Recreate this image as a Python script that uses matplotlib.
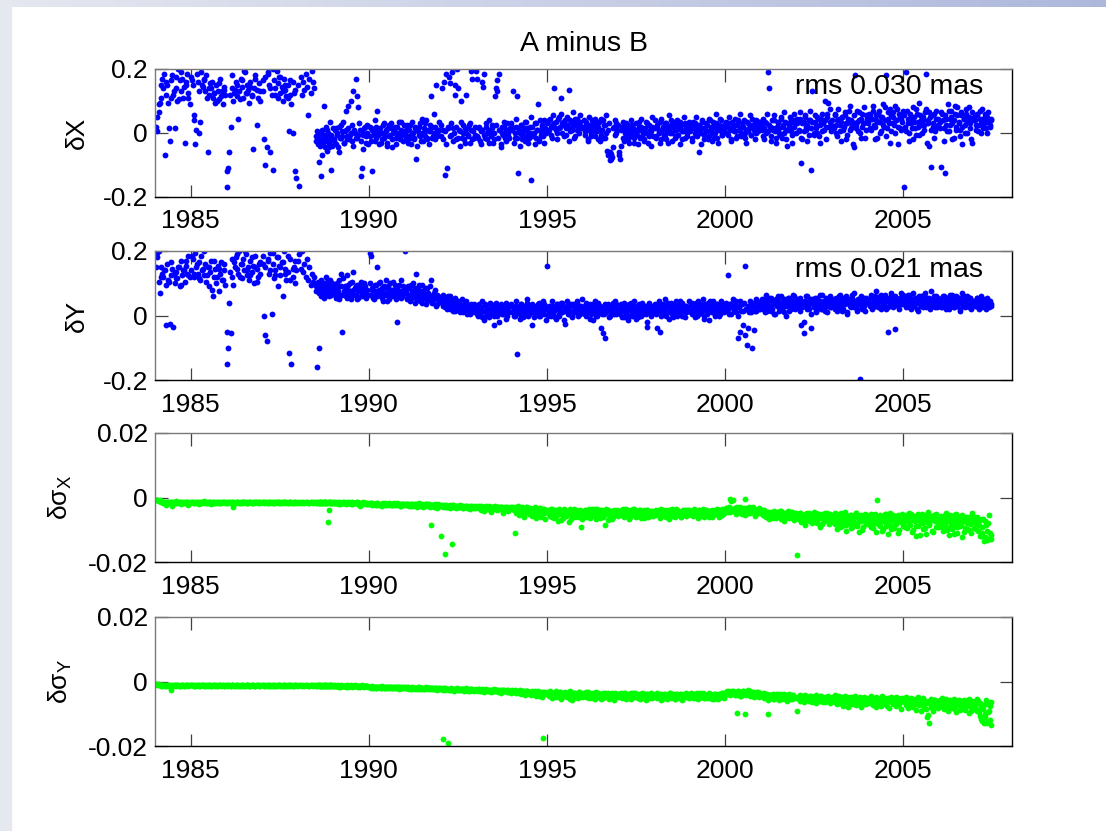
import numpy as np
import matplotlib
matplotlib.use('Agg')
import matplotlib.pyplot as plt

plt.rcParams['font.family'] = ['Liberation Sans', 'DejaVu Sans']
plt.rcParams['mathtext.fontset'] = 'custom'
plt.rcParams['mathtext.rm'] = 'Liberation Sans'
plt.rcParams['mathtext.it'] = 'Liberation Sans'
plt.rcParams['axes.unicode_minus'] = False

# ---- first group of sessions ----
# epochs (decimal year), shared by all four series
epochs = [
    1984.05, 1984.07, 1984.10, 1984.13, 1984.16, 1984.20, 1984.23, 1984.27, 1984.30, 1984.34, 1984.37, 1984.41, 1984.44, 1984.48,
    1984.51, 1984.55, 1984.58, 1984.62, 1984.65, 1984.69, 1984.72, 1984.76, 1984.79, 1984.83, 1984.86, 1984.90, 1984.93, 1984.97,
    1985.02, 1985.06, 1985.09, 1985.13, 1985.16, 1985.20, 1985.23, 1985.27, 1985.30, 1985.34, 1985.37, 1985.41, 1985.44, 1985.48,
    1985.51, 1985.55, 1985.58, 1985.62, 1985.65, 1985.69, 1985.72, 1985.76, 1985.79, 1985.83, 1985.86, 1985.90, 1985.93, 1985.97,
    1986.01, 1986.05, 1986.08, 1986.12, 1986.15, 1986.19, 1986.22, 1986.26, 1986.29, 1986.33, 1986.36, 1986.40, 1986.43, 1986.47,
    1986.50, 1986.54, 1986.57, 1986.61, 1986.64, 1986.68, 1986.71, 1986.75, 1986.78, 1986.82, 1986.85, 1986.89, 1986.92, 1986.96,
    1987.02, 1987.06, 1987.09, 1987.13, 1987.16, 1987.20, 1987.23, 1987.27, 1987.30, 1987.34, 1987.37, 1987.41, 1987.44, 1987.48,
    1987.51, 1987.55, 1987.58, 1987.62, 1987.65, 1987.69, 1987.72, 1987.76, 1987.79, 1987.83, 1987.86, 1987.90, 1987.93, 1987.97,
    1988.02, 1988.05, 1988.09, 1988.12, 1988.16, 1988.19, 1988.23, 1988.26, 1988.30, 1988.33, 1988.37, 1988.40, 1988.44, 1988.47,
    1988.52, 1988.53, 1988.55, 1988.57, 1988.59, 1988.60, 1988.62, 1988.64, 1988.66, 1988.67, 1988.69, 1988.71, 1988.73, 1988.74,
    1988.76, 1988.78, 1988.80, 1988.81, 1988.83, 1988.85, 1988.87, 1988.88, 1988.90, 1988.92, 1988.94, 1988.95, 1988.97, 1988.99,
    1989.01, 1989.05, 1989.08, 1989.12, 1989.15, 1989.19, 1989.22, 1989.26, 1989.29, 1989.33, 1989.36, 1989.40, 1989.43, 1989.47,
    1989.50, 1989.54, 1989.57, 1989.61, 1989.64, 1989.68, 1989.71, 1989.75, 1989.78, 1989.82, 1989.85, 1989.89, 1989.92, 1989.96,
    1990.02, 1990.06, 1990.09, 1990.13, 1990.16, 1990.20, 1990.23, 1990.27, 1990.30, 1990.34, 1990.37, 1990.41, 1990.44, 1990.48,
    1990.51, 1990.55, 1990.58, 1990.62, 1990.65, 1990.69, 1990.72, 1990.76, 1990.79, 1990.83, 1990.86, 1990.90, 1990.93, 1990.97,
    1991.01, 1991.05, 1991.08, 1991.12, 1991.15, 1991.19, 1991.22, 1991.26, 1991.29, 1991.33, 1991.36, 1991.40, 1991.43, 1991.47,
    1991.50, 1991.54, 1991.57, 1991.61, 1991.64, 1991.68, 1991.71, 1991.75, 1991.78, 1991.82, 1991.85, 1991.89, 1991.92, 1991.96,
    1992.02, 1992.06, 1992.09, 1992.13, 1992.16, 1992.20, 1992.23, 1992.27, 1992.30, 1992.34, 1992.37, 1992.41, 1992.44, 1992.48,
    1992.51, 1992.55, 1992.58, 1992.62, 1992.65, 1992.69, 1992.72, 1992.76, 1992.79, 1992.83, 1992.86, 1992.90, 1992.93, 1992.97,
    1993.01, 1993.05, 1993.08, 1993.12, 1993.15, 1993.19, 1993.22, 1993.26, 1993.29, 1993.33, 1993.36, 1993.40, 1993.43, 1993.47,
    1993.50, 1993.54, 1993.57, 1993.61, 1993.64, 1993.68, 1993.71, 1993.75, 1993.78, 1993.82, 1993.85, 1993.89, 1993.92, 1993.96,
    1994.02, 1994.06, 1994.09, 1994.13, 1994.16, 1994.20, 1994.23, 1994.27, 1994.30, 1994.34, 1994.37, 1994.41, 1994.44, 1994.48,
    1994.51, 1994.55, 1994.58, 1994.62, 1994.65, 1994.69, 1994.72, 1994.76, 1994.79, 1994.83, 1994.86, 1994.90, 1994.93, 1994.97,
    1995.01, 1995.05, 1995.08, 1995.12, 1995.15, 1995.19, 1995.22, 1995.26, 1995.29, 1995.33, 1995.36, 1995.40, 1995.43, 1995.47,
    1995.50, 1995.54, 1995.57, 1995.61, 1995.64, 1995.68, 1995.71, 1995.75, 1995.78, 1995.82, 1995.85, 1995.89, 1995.92, 1995.96,
    1996.02, 1996.06, 1996.09, 1996.13, 1996.16, 1996.20, 1996.23, 1996.27, 1996.30, 1996.34, 1996.37, 1996.41, 1996.44, 1996.48,
    1996.51, 1996.55, 1996.58, 1996.62, 1996.65, 1996.69, 1996.72, 1996.76, 1996.79, 1996.83, 1996.86, 1996.90, 1996.93, 1996.97,
    1997.01, 1997.05, 1997.08, 1997.12, 1997.15, 1997.19, 1997.22, 1997.26, 1997.29, 1997.33, 1997.36, 1997.40, 1997.43, 1997.47,
    1997.50, 1997.54, 1997.57, 1997.61, 1997.64, 1997.68, 1997.71, 1997.75, 1997.78, 1997.82, 1997.85, 1997.89, 1997.92, 1997.96,
    1998.02, 1998.06, 1998.09, 1998.13, 1998.16, 1998.20, 1998.23, 1998.27, 1998.30, 1998.34, 1998.37, 1998.41, 1998.44, 1998.48,
    1998.51, 1998.55, 1998.58, 1998.62, 1998.65, 1998.69, 1998.72, 1998.76, 1998.79, 1998.83, 1998.86, 1998.90, 1998.93, 1998.97,
    1999.01, 1999.05, 1999.08, 1999.12, 1999.15, 1999.19, 1999.22, 1999.26, 1999.29, 1999.33, 1999.36, 1999.40, 1999.43, 1999.47,
    1999.50, 1999.54, 1999.57, 1999.61, 1999.64, 1999.68, 1999.71, 1999.75, 1999.78, 1999.82, 1999.85, 1999.89, 1999.92, 1999.96,
    2000.02, 2000.06, 2000.09, 2000.13, 2000.16, 2000.20, 2000.23, 2000.27, 2000.30, 2000.34, 2000.37, 2000.41, 2000.44, 2000.48,
    2000.51, 2000.55, 2000.58, 2000.62, 2000.65, 2000.69, 2000.72, 2000.76, 2000.79, 2000.83, 2000.86, 2000.90, 2000.93, 2000.97,
    2001.01, 2001.05, 2001.08, 2001.12, 2001.15, 2001.19, 2001.22, 2001.26, 2001.29, 2001.33, 2001.36, 2001.40, 2001.43, 2001.47,
    2001.50, 2001.54, 2001.57, 2001.61, 2001.64, 2001.68, 2001.71, 2001.75, 2001.78, 2001.82, 2001.85, 2001.89, 2001.92, 2001.96,
    2002.02, 2002.06, 2002.09, 2002.13, 2002.16, 2002.20, 2002.23, 2002.27, 2002.30, 2002.34, 2002.37, 2002.41, 2002.44, 2002.48,
    2002.51, 2002.55, 2002.58, 2002.62, 2002.65, 2002.69, 2002.72, 2002.76, 2002.79, 2002.83, 2002.86, 2002.90, 2002.93, 2002.97,
    2003.01, 2003.05, 2003.08, 2003.12, 2003.15, 2003.19, 2003.22, 2003.26, 2003.29, 2003.33, 2003.36, 2003.40, 2003.43, 2003.47,
    2003.50, 2003.54, 2003.57, 2003.61, 2003.64, 2003.68, 2003.71, 2003.75, 2003.78, 2003.82, 2003.85, 2003.89, 2003.92, 2003.96,
    2004.02, 2004.06, 2004.09, 2004.13, 2004.16, 2004.20, 2004.23, 2004.27, 2004.30, 2004.34, 2004.37, 2004.41, 2004.44, 2004.48,
    2004.51, 2004.55, 2004.58, 2004.62, 2004.65, 2004.69, 2004.72, 2004.76, 2004.79, 2004.83, 2004.86, 2004.90, 2004.93, 2004.97,
    2005.01, 2005.05, 2005.08, 2005.12, 2005.15, 2005.19, 2005.22, 2005.26, 2005.29, 2005.33, 2005.36, 2005.40, 2005.43, 2005.47,
    2005.50, 2005.54, 2005.57, 2005.61, 2005.64, 2005.68, 2005.71, 2005.75, 2005.78, 2005.82, 2005.85, 2005.89, 2005.92, 2005.96,
    2006.02, 2006.06, 2006.09, 2006.13, 2006.16, 2006.20, 2006.23, 2006.27, 2006.30, 2006.34, 2006.37, 2006.41, 2006.44, 2006.48,
    2006.51, 2006.55, 2006.58, 2006.62, 2006.65, 2006.69, 2006.72, 2006.76, 2006.79, 2006.83, 2006.86, 2006.90, 2006.93, 2006.97,
    2007.01, 2007.05, 2007.08, 2007.12, 2007.15, 2007.19, 2007.22, 2007.26, 2007.29, 2007.33, 2007.36, 2007.40, 2007.43, 2007.47,
]

# celestial pole offset differences A - B, in microarcseconds
dX = [
    50, 5, 65, 95, 110, 170, 140, -70, 160, 150, 95, -25, 110, 180, 120, 15, 140, 100, 200, 165, 130, 170, 110, -30, 150, 185, 125, 90,
    175, 150, 40, -35, 10, 160, 0, 35, 190, 145, 165, 130, 180, -60, 120, 155, 140, 110, 125, 95, 150, 130, 105, 170, 115, 90, 135, 120,
    -170, -110, -60, 20, 140, 100, 125, 160, 115, 45, 130, 170, 145, 110, 195, 125, 150, 135, 95, 160, 120, -50, 140, 180, 25, 110, 155, 130,
    130, -20, 175, -45, 190, 150, -60, 120, -115, 165, 140, 195, 110, 175, 125, 145, 100, 170, 135, 115, 150, 5, 120, 90, 160, 125, -120, -140,
    150, -165, 175, 120, 160, 135, 185, 145, 55, 170, 125, 195, 160, 140,
    -10, -25, 5, -35, -90, -15, 0, -40, -135, -20, 10, -30, -5, 85, -45, -15, 20, -25, -55, 0, -10, -30, 35, -20, -115, -5, -40, 15,
    -20, 10, -35, 0, -60, -15, 25, -10, -30, 5, 70, -20, 15, -5, 100, -25, 130, 0, 170, -15, 80, 10, -135, -110, -5, 20, -30, 0,
    -10, 15, -120, 5, -25, 20, 70, -5, 10, -30, 0, 25, -15, 5, -40, 15, -10, 30, -20, 0, 10, -35, 20, -5, -15, 35, 0, -25,
    5, -20, 15, -10, 25, -35, 0, -15, 20, -80, 10, -5, 30, -25, 0, 15, -10, 40, -20, 5, 25, 115, -15, 0, 20, 150, -10, 10,
    -10, 140, 10, -130, 185, -110, 20, 155, -5, 190, 15, 120, -20, 200, 140, 5, 100, -15, 25, -30, 0, 15, -10, 30, 195, -20, 5, -5,
    195, -10, 15, -25, 5, 160, 185, -15, 20, 0, -30, 10, -5, 25, -20, 115, 140, 165, 185, 10, -35, 0, 20, -15, 5, 30, -10, 15,
    10, 130, -15, 20, 115, -125, 0, 25, -20, 5, 35, -10, 15, -30, 0, -148, 20, -5, 30, -15, 10, 90, -25, 5, 20, -10, 40, 0,
    30, 10, 45, -5, 25, 140, 15, 35, 0, 50, 20, 110, 30, -10, 40, 15, 25, 135, 5, 35, 20, -15, 45, 25, 10, 30, 55, 15,
    20, -5, 35, 10, -20, 25, 0, 40, 15, -10, 30, 5, 20, -25, 45, 10, -15, 25, 0, -55, -70, -85, -65, -75, 15, -5, 30, 10,
    -60, -80, 10, -15, 20, 0, 30, -20, 5, 15, -10, 25, -30, 0, 10, -5, 35, -15, 20, 5, -25, 15, 0, 30, -10, 10, -40, 20,
    15, -10, 25, 0, 35, -20, 10, 20, -5, 30, 5, -30, 15, 40, 0, 20, -15, 10, 25, -5, 35, 10, -20, 5, 30, 15, -10, 20,
    5, 25, -15, 15, 30, -5, 10, -60, 20, 0, 35, -20, 15, 5, 25, -10, 40, 10, -25, 20, 0, 30, -15, 15, 45, 5, -5, 25,
    20, 0, 30, 10, -20, 35, 15, 5, 25, -10, 40, 15, 0, 30, 20, -15, 10, 35, 5, 25, -5, 45, 15, 30, 0, 20, 10, 35,
    25, -10, 15, 35, 0, 190, 140, 20, -25, 10, 40, 5, -15, 30, 15, -5, 45, 20, 0, 35, -20, 10, 25, 50, 5, -30, 20, 40,
    30, 5, 45, -95, -20, 35, 55, 10, 25, -5, 40, -115, 130, 0, 35, 15, 50, -10, 25, 45, 5, 30, 100, 20, 60, 95, 35, 25,
    40, 15, 60, 25, -10, 45, 5, 35, 50, 20, 55, -20, 30, 70, 10, 40, 25, -45, 180, 15, 35, 65, 0, 45, 20, 30, -15, 55,
    30, 55, 10, 45, 70, 20, 40, -15, 60, 35, 5, 50, 25, 80, 180, 15, 45, -30, 55, 30, 65, 0, 40, 75, 20, 50, 10, 35,
    -170, 20, 190, 45, 0, 60, 30, -20, 50, 15, 75, 35, -5, 55, 25, 40, 10, 65, 185, 30, -40, 50, -105, 20, 60, 5, 45, 25,
    35, -105, 60, 15, -125, 45, 5, 70, 25, 50, -20, 40, 85, 10, 55, 30, -10, 65, 20, 45, 0, 60, 35, 80, 15, 40, -30, 50,
    40, 10, 55, 25, 70, 0, 45, 30, 60, 15, 50, 35, 20, 45,
]
dY = [
    180, 195, 105, 70, 150, 130, 120, 140, 95, 160, 110, -25, 125, 145, -35, 100, 135, 115, 150, 90, 170, 125, 140, 105, 155, 130, 185, 120,
    140, 175, 120, 195, 150, 130, 165, 110, 185, 145, 125, 160, 105, 150, 90, 135, 170, 60, 120, 145, 100, 155, 75, 130, 165, 110, 140, 95,
    -150, -100, 40, -55, 120, 95, 165, 180, 145, 130, 200, 160, 115, 175, 140, 190, 125, 150, 110, 170, 135, 155, 100, 185, 145, 120, 160, 130,
    185, 0, 150, -80, 170, 130, 195, 5, 160, 115, 140, 180, 90, 155, 125, 165, 60, 200, 145, 110, 135, -115, 175, -150, 120, 150, 100, 140,
    170, 190, 145, 200, 135, 160, 120, 175, 110, 150, 95, 130, 105, 120,
    90, 75, -160, 105, -100, 85, 70, 95, 60, 110, 80, 65, 100, 55, 90, 75, 120, 70, 85, 95, 60, 80, 110, 70, 90, 65, 100, 75,
    70, 95, 55, 85, 110, 65, 130, -50, 75, 90, 60, 125, 80, 100, 50, 70, 135, 85, 65, 95, 55, 80, 105, 70, 60, 90, 75, 65,
    195, 185, 80, 55, 95, 65, 150, 75, 100, 60, 85, 45, 70, 110, 65, 90, 50, 80, 70, 105, 60, 85, -20, 75, 95, 55, 70, 90,
    200, 70, 50, 85, 65, 95, 55, 75, 40, 130, 60, 80, 45, 70, 95, 55, 65, 35, 85, 50, 60, 110, 45, 70, 55, 30, 65, 50,
    55, 40, 65, 30, 50, 20, 45, 60, 25, 40, 15, 55, 35, 20, 45, 10, 30, 50, 25, 15, 40, 5, 30, 20, 35, 10, 25, 15,
    20, 5, 30, 10, 25, -5, 15, 35, 0, 20, 10, 40, 5, 25, -30, 15, 30, 0, 20, 10, 35, 5, 15, 25, -10, 20, 10, 30,
    10, 25, 0, 30, -120, 15, 5, 35, 20, -5, 25, 10, 40, 0, 20, 15, -30, 30, 5, 25, 10, 35, 0, 20, 15, 45, 5, 25,
    155, 10, 25, 0, 30, 15, -5, 20, 35, 5, 25, 10, 40, 15, -25, 20, 30, 5, 15, 35, 0, 25, 10, 20, 45, 15, 5, 30,
    15, 30, 0, 25, 10, 35, 5, 20, -15, 30, 15, 0, 40, 10, 25, 5, -55, -70, 30, 15, 35, 0, 25, 10, 20, 45, 5, 20,
    20, 5, 35, 15, -5, 25, 10, 30, 0, 20, 40, 15, 5, 25, -10, 30, 10, 20, 0, 35, 15, 25, 5, -35, 20, 10, 30, 15,
    25, 10, -40, 30, -50, 15, 5, 35, 20, 0, 25, 40, 10, 30, 15, -5, 20, 35, 5, 25, 45, 15, 0, 20, 30, 10, 25, 15,
    20, 35, 5, 25, 15, 40, 0, 20, 30, 10, 25, -10, 35, 15, 5, 25, 45, 20, 10, 30, 0, 15, 35, 20, 5, 25, 40, 10,
    30, 15, 125, 35, 5, 25, 40, 20, 10, 30, -70, 45, 15, 35, -30, 155, 20, -90, -40, 30, 10, -100, 40, 25, 15, 45, 30, 20,
    35, 20, 50, 10, 40, 25, 55, 30, 15, 45, 35, 5, 40, 60, 25, 35, 20, 50, 10, 40, 30, 55, 15, 45, 25, 35, 60, 20,
    40, 25, 55, -30, 35, -55, 45, 30, 60, 20, 40, -40, 50, 25, 35, 10, 55, 30, 45, 20, 65, 35, 15, 40, 30, 50, 25, 45,
    35, 50, 20, 45, 30, 60, 25, 40, 15, 55, 35, 45, 10, 50, 30, 40, 65, 25, 45, 35, 20, 50, -197, 40, 30, 55, 15, 45,
    45, 30, 55, 20, 40, 60, 35, 50, 25, 45, 65, 30, 40, 55, 20, 50, -50, 35, 60, 45, 25, -43, 55, 40, 30, 50, 70, 35,
    40, 55, 25, 50, 35, 65, 20, 45, 30, 55, 40, 15, 50, 35, 60, 25, 45, 70, 30, 40, 55, 20, 45, 35, 60, 25, 50, 40,
    35, 50, 25, 60, 40, 30, 55, 20, 45, 35, 65, 25, 50, 40, 30, 55, 15, 45, 35, 60, 25, 50, 40, 30, 55, 20, 45, 35,
    45, 30, 55, 20, 40, 50, 25, 45, 35, 30, 50, 25, 40, 35,
]

# differences of the formal errors A - B, in microarcseconds
dsigX = [
    -0.8, -0.9, -1.0, -0.7, -1.1, -1.4, -1.6, -1.5, -2.2, -1.5, -1.3, -1.7, -1.5, -2.6, -1.4, -1.6, -1.2, -1.8, -1.5, -1.4, -2.0, -1.6, -1.5, -1.3, -1.7, -1.5, -2.4, -1.6,
    -1.5, -1.4, -1.7, -1.3, -1.6, -1.5, -1.9, -1.4, -1.6, -1.5, -1.2, -1.7, -1.4, -1.6, -1.5, -1.3, -2.0, -1.5, -1.6, -1.4, -1.7, -1.5, -1.6, -1.3, -1.8, -1.5, -1.4, -1.6,
    -1.5, -1.7, -1.4, -1.6, -1.5, -2.8, -1.3, -1.6, -1.5, -1.4, -1.7, -1.5, -1.6, -1.3, -1.5, -1.8, -1.4, -1.6, -1.5, -1.3, -1.6, -1.5, -1.7, -1.4, -1.5, -1.6, -1.4, -1.5,
    -1.5, -1.6, -1.4, -1.7, -1.5, -1.4, -1.6, -1.5, -1.8, -1.4, -1.6, -1.5, -1.3, -1.7, -1.5, -1.6, -1.4, -1.5, -1.7, -1.4, -1.6, -1.5, -1.3, -1.6, -1.5, -1.7, -1.4, -1.6,
    -1.5, -1.6, -1.4, -1.7, -1.5, -1.6, -1.4, -1.5, -1.7, -1.6, -1.4, -1.5, -1.6, -1.5,
    -1.6, -1.5, -1.7, -1.4, -1.6, -1.5, -1.8, -1.5, -1.6, -1.4, -1.7, -1.5, -1.6, -1.5, -1.4, -1.6, -1.7, -1.5, -1.6, -7.5, -1.5, -3.8, -1.6, -1.5, -1.7, -1.4, -1.6, -1.5,
    -1.7, -1.5, -1.8, -1.6, -1.5, -1.9, -1.6, -1.7, -1.5, -1.8, -1.6, -1.4, -1.7, -1.6, -1.9, -1.5, -1.7, -1.6, -1.8, -1.5, -1.7, -2.6, -1.6, -1.8, -1.5, -1.7, -1.6, -1.9,
    -1.8, -2.1, -1.7, -2.0, -1.9, -2.3, -1.8, -2.0, -2.2, -1.9, -2.1, -1.7, -2.0, -2.4, -1.9, -2.1, -1.8, -2.0, -2.2, -1.9, -2.3, -2.0, -1.8, -2.1, -2.0, -2.5, -1.9, -2.1,
    -2.0, -2.3, -1.9, -2.2, -2.1, -2.5, -1.9, -2.2, -2.0, -2.4, -2.1, -1.8, -2.3, -2.6, -2.0, -2.2, -2.4, -2.1, -1.9, -2.3, -2.8, -8.5, -2.2, -2.5, -2.1, -2.3, -3.2, -2.2,
    -11.8, -2.4, -2.5, -17.5, -2.3, -2.8, -2.6, -2.4, -2.6, -14.5, -2.3, -2.9, -2.5, -2.7, -3.1, -2.4, -2.8, -2.6, -3.3, -2.5, -2.9, -2.7, -3.4, -2.6, -3.0, -2.8, -2.5, -3.2,
    -2.6, -3.0, -2.8, -3.3, -2.7, -3.1, -2.9, -3.5, -2.6, -3.0, -3.2, -2.8, -3.6, -2.9, -3.1, -2.7, -3.4, -3.0, -2.8, -3.7, -3.1, -2.9, -3.3, -3.0, -4.0, -3.2, -2.9, -3.5,
    -3.0, -3.6, -11.0, -4.2, -3.3, -2.7, -4.6, -3.5, -3.1, -5.2, -3.4, -2.9, -4.0, -3.7, -3.2, -5.0, -3.6, -4.3, -3.0, -5.5, -3.8, -4.1, -3.3, -6.0, -4.4, -3.5, -4.8, -3.9,
    -4.5, -3.8, -5.6, -4.2, -3.6, -6.4, -4.9, -4.0, -5.3, -3.7, -4.6, -7.0, -4.3, -5.0, -3.9, -5.8, -4.4, -4.7, -3.5, -6.8, -4.8, -4.1, -5.4, -3.8, -4.5, -5.9, -4.2, -9.0,
    -4.6, -5.2, -3.9, -4.8, -6.0, -4.3, -5.5, -3.7, -4.9, -5.8, -4.4, -3.6, -5.1, -6.3, -4.7, -4.0, -5.4, -8.5, -4.5, -5.0, -3.8, -5.7, -4.6, -6.6, -4.2, -5.3, -4.8, -3.9,
    -4.4, -5.0, -3.8, -4.7, -5.6, -4.2, -3.6, -5.3, -4.5, -6.1, -4.0, -4.9, -3.7, -5.5, -4.3, -5.8, -4.6, -3.9, -5.1, -4.4, -6.5, -4.1, -5.0, -3.8, -4.8, -5.7, -4.2, -4.6,
    -4.5, -3.9, -5.2, -4.3, -4.8, -3.6, -5.5, -4.1, -4.7, -6.2, -4.4, -3.8, -5.0, -4.6, -5.8, -4.0, -4.5, -3.7, -5.3, -4.2, -4.9, -6.0, -4.3, -3.9, -5.1, -4.6, -4.0, -5.4,
    -4.2, -5.0, -4.6, -3.7, -5.4, -4.3, -4.9, -3.9, -5.7, -4.4, -4.0, -5.1, -4.7, -3.8, -5.5, -4.1, -4.8, -4.5, -6.1, -4.2, -3.9, -5.2, -4.6, -4.0, -5.6, -4.3, -3.6, -4.9,
    -3.8, -3.2, -4.4, -0.5, -3.6, -4.1, -0.8, -3.4, -4.6, -3.0, -3.9, -4.3, -3.5, -5.0, -3.7, -0.6, -4.2, -3.3, -4.8, -3.9, -3.6, -4.5, -3.1, -4.0, -5.2, -3.8, -4.4, -3.5,
    -4.3, -5.1, -4.7, -5.6, -4.4, -6.0, -4.9, -5.3, -4.5, -6.3, -5.0, -4.6, -5.8, -4.8, -5.4, -4.2, -6.6, -5.1, -4.7, -5.5, -6.1, -4.9, -5.7, -4.4, -5.2, -6.4, -4.8, -5.0,
    -17.7, -5.4, -4.9, -6.2, -5.6, -7.0, -5.1, -6.5, -4.8, -5.9, -7.4, -5.3, -6.1, -4.6, -6.8, -5.7, -7.8, -5.0, -6.3, -5.5, -8.2, -6.0, -4.9, -7.1, -5.8, -6.6, -5.2, -7.5,
    -5.6, -7.2, -4.9, -8.0, -6.3, -5.2, -9.1, -6.8, -5.5, -7.6, -4.6, -8.5, -6.0, -7.0, -5.3, -9.4, -6.5, -5.8, -7.9, -4.8, -8.8, -6.2, -7.3, -5.4, -10.0, -6.7, -5.1, -7.7,
    -6.2, -8.6, -5.0, -7.1, -9.5, -5.8, -6.9, -0.8, -8.1, -5.5, -7.4, -10.5, -6.4, -5.1, -8.9, -6.0, -7.7, -4.7, -9.9, -6.6, -5.4, -8.3, -7.0, -5.9, -11.0, -6.8, -7.5, -5.2,
    -6.5, -9.0, -5.3, -7.6, -4.9, -8.4, -6.1, -10.2, -5.7, -7.2, -8.8, -5.0, -6.9, -11.5, -6.3, -7.9, -5.5, -9.6, -6.7, -4.6, -8.1, -7.0, -5.8, -10.8, -6.4, -7.4, -5.2, -9.2,
    -7.0, -5.6, -9.3, -6.2, -8.0, -4.8, -10.0, -6.8, -5.4, -8.7, -7.3, -11.2, -6.0, -5.1, -9.0, -7.6, -6.5, -8.4, -5.3, -10.6, -7.1, -6.3, -9.7, -5.9, -8.2, -7.8, -4.9, -9.4,
    -7.5, -9.8, -6.0, -8.6, -12.0, -6.8, -11.0, -13.5, -7.2, -12.5, -10.4, -5.5, -13.0, -11.5,
]
dsigY = [
    -0.8, -1.0, -0.9, -1.2, -1.0, -1.3, -1.1, -1.5, -1.2, -1.0, -1.4, -1.2, -2.6, -1.1, -1.3, -1.0, -1.4, -1.2, -1.1, -1.3, -1.5, -1.2, -1.0, -1.3, -1.2, -1.1, -1.4, -1.2,
    -1.2, -1.0, -1.3, -1.1, -1.4, -1.2, -1.0, -1.3, -1.1, -1.2, -1.5, -1.3, -1.1, -1.2, -1.4, -1.0, -1.3, -1.2, -1.1, -1.5, -1.2, -1.3, -1.0, -1.2, -1.4, -1.1, -1.3, -1.2,
    -1.3, -1.1, -1.2, -1.4, -1.2, -1.0, -1.3, -1.2, -1.5, -1.1, -1.3, -1.2, -1.4, -1.1, -1.3, -1.2, -1.0, -1.4, -1.2, -1.3, -1.1, -1.2, -1.4, -1.3, -1.2, -1.1, -1.3, -1.2,
    -1.2, -1.4, -1.1, -1.3, -1.2, -1.5, -1.0, -1.3, -1.2, -1.4, -1.1, -1.3, -1.2, -1.0, -1.4, -1.3, -1.2, -1.1, -1.3, -1.4, -1.2, -1.1, -1.3, -1.2, -1.5, -1.1, -1.3, -1.2,
    -1.3, -1.1, -1.2, -1.4, -1.2, -1.3, -1.1, -1.2, -1.4, -1.3, -1.2, -1.1, -1.3, -1.2,
    -1.3, -1.2, -1.4, -1.1, -1.3, -1.2, -1.5, -1.2, -1.3, -1.4, -1.1, -1.3, -1.2, -1.4, -1.3, -1.2, -1.5, -1.1, -1.3, -1.2, -1.4, -1.3, -1.2, -1.1, -1.4, -1.3, -1.2, -1.3,
    -1.4, -1.2, -1.5, -1.3, -1.4, -1.6, -1.2, -1.4, -1.3, -1.5, -1.4, -1.2, -1.6, -1.3, -1.5, -1.4, -1.3, -1.2, -1.5, -1.4, -1.3, -1.6, -1.4, -1.2, -1.5, -1.3, -1.4, -1.5,
    -1.6, -1.8, -1.5, -1.9, -1.7, -2.0, -1.6, -1.8, -1.7, -1.9, -1.5, -1.8, -2.0, -1.7, -1.9, -1.6, -1.8, -2.1, -1.7, -1.9, -1.8, -1.6, -2.0, -1.8, -1.7, -1.9, -2.1, -1.8,
    -1.8, -2.0, -1.7, -2.1, -1.9, -2.2, -1.8, -2.0, -2.3, -1.9, -2.1, -1.8, -2.0, -2.2, -1.9, -2.4, -2.0, -1.8, -2.1, -2.0, -2.3, -1.9, -2.1, -2.2, -2.0, -1.9, -2.3, -2.1,
    -2.0, -2.3, -17.8, -2.1, -2.4, -2.2, -19.2, -2.5, -2.1, -2.3, -2.6, -2.2, -2.4, -2.0, -2.5, -2.3, -2.7, -2.2, -2.4, -2.6, -2.1, -2.5, -2.3, -2.8, -2.4, -2.2, -2.6, -2.5,
    -2.3, -2.6, -2.2, -2.8, -2.5, -2.4, -2.9, -2.6, -2.3, -2.7, -3.1, -2.5, -2.8, -2.6, -2.4, -3.0, -2.7, -2.5, -2.9, -2.6, -3.2, -2.7, -2.5, -3.0, -2.8, -2.6, -3.3, -2.9,
    -2.7, -3.0, -2.5, -3.4, -2.9, -3.2, -2.6, -3.6, -3.0, -2.8, -3.8, -3.1, -2.9, -3.5, -3.3, -4.0, -3.0, -3.7, -3.2, -4.2, -3.4, -3.0, -4.5, -3.6, -3.3, -17.5, -3.9, -3.5,
    -3.2, -3.8, -3.0, -4.2, -3.5, -4.8, -3.6, -3.1, -4.4, -3.9, -3.3, -5.0, -3.7, -4.1, -3.4, -4.6, -3.8, -3.2, -5.3, -4.0, -3.6, -4.3, -3.5, -4.9, -3.9, -3.4, -4.5, -4.0,
    -3.6, -4.1, -3.3, -4.7, -3.9, -3.5, -4.4, -5.2, -3.7, -4.0, -3.4, -4.8, -4.2, -3.8, -5.5, -4.0, -3.6, -4.5, -3.9, -4.3, -3.5, -5.0, -4.1, -3.7, -4.6, -3.9, -4.4, -3.8,
    -3.8, -4.3, -3.5, -4.8, -4.0, -3.6, -4.5, -3.9, -5.1, -4.2, -3.7, -4.6, -4.0, -3.5, -4.9, -4.3, -3.8, -5.4, -4.1, -3.6, -4.4, -4.0, -4.7, -3.9, -4.2, -5.0, -3.7, -4.5,
    -4.0, -4.5, -3.7, -4.9, -4.2, -3.8, -5.3, -4.4, -3.9, -4.7, -4.1, -5.0, -3.6, -4.3, -4.8, -4.0, -5.5, -4.2, -3.8, -4.6, -4.4, -3.9, -5.1, -4.1, -4.5, -3.7, -4.8, -4.3,
    -4.1, -3.7, -4.6, -4.0, -5.0, -3.8, -4.4, -4.2, -3.6, -4.9, -4.3, -3.9, -5.2, -4.1, -4.5, -3.7, -4.8, -4.0, -4.3, -5.4, -3.9, -4.6, -4.2, -3.8, -4.7, -4.1, -3.5, -4.4,
    -3.5, -3.0, -4.0, -3.3, -3.8, -2.9, -3.6, -4.2, -3.2, -9.8, -3.1, -4.4, -3.4, -3.9, -3.0, -10.2, -4.1, -3.3, -3.8, -2.8, -3.5, -4.3, -3.2, -3.7, -4.5, -3.4, -3.9, -3.6,
    -3.9, -4.4, -3.6, -4.8, -4.1, -10.0, -5.0, -4.3, -4.6, -3.9, -5.3, -4.2, -4.7, -4.0, -5.5, -4.4, -3.8, -4.9, -4.5, -5.1, -4.2, -4.8, -3.9, -5.4, -4.6, -4.3, -5.0, -4.7,
    -9.0, -5.0, -4.1, -5.5, -4.7, -6.0, -4.3, -5.2, -4.8, -5.8, -4.5, -5.3, -6.3, -4.9, -5.6, -4.2, -5.1, -6.1, -4.6, -5.4, -5.0, -6.5, -4.7, -5.7, -5.2, -4.4, -6.0, -5.3,
    -4.8, -5.6, -4.3, -6.2, -5.1, -4.6, -6.8, -5.4, -4.9, -5.9, -4.4, -6.5, -5.2, -4.7, -7.0, -5.5, -5.0, -6.1, -4.5, -5.8, -5.3, -6.6, -4.9, -5.7, -7.3, -5.1, -6.0, -5.4,
    -5.0, -6.0, -4.5, -6.7, -5.4, -5.8, -4.8, -7.2, -5.6, -6.3, -5.1, -4.6, -6.9, -5.5, -6.1, -7.6, -5.2, -5.9, -4.9, -6.5, -5.7, -6.2, -4.7, -7.0, -5.3, -6.4, -5.8, -5.0,
    -5.3, -6.5, -4.9, -7.1, -5.8, -6.2, -5.0, -7.8, -6.0, -5.4, -6.8, -4.7, -7.4, -5.6, -6.3, -5.1, -8.2, -5.9, -6.6, -10.5, -12.8, -6.1, -5.5, -8.6, -6.4, -5.7, -7.2, -6.0,
    -5.6, -6.9, -5.2, -7.5, -6.1, -5.5, -8.0, -6.4, -5.8, -7.2, -6.7, -5.3, -8.4, -6.0, -7.0, -5.7, -6.6, -7.8, -5.9, -6.3, -8.8, -6.2, -7.3, -5.4, -6.8, -9.2, -6.5, -7.1,
    -6.0, -8.5, -5.4, -9.6, -6.8, -11.5, -7.4, -12.8, -10.2, -5.8, -13.0, -9.0, -11.8, -6.5,
]

# ---- second group of sessions ----
epochs_2 = [
    1984.03, 1984.10, 1984.17, 1984.24, 1984.31, 1984.38, 1984.45, 1984.52, 1984.59, 1984.66, 1984.73, 1984.80, 1984.87, 1984.94,
    1985.03, 1985.10, 1985.17, 1985.24, 1985.31, 1985.38, 1985.45, 1985.52, 1985.59, 1985.66, 1985.73, 1985.80, 1985.87, 1985.94,
    1986.03, 1986.10, 1986.17, 1986.24, 1986.31, 1986.38, 1986.45, 1986.52, 1986.59, 1986.66, 1986.73, 1986.80, 1986.87, 1986.94,
    1987.03, 1987.10, 1987.17, 1987.24, 1987.31, 1987.38, 1987.45, 1987.52, 1987.59, 1987.66, 1987.73, 1987.80, 1987.87, 1987.94,
    1988.61, 1988.65, 1988.70, 1988.77, 1988.82, 1988.89, 1988.93,
    1989.03, 1989.07, 1989.10, 1989.14, 1989.17, 1989.21, 1989.24, 1989.28, 1989.31, 1989.35, 1989.38, 1989.42, 1989.45, 1989.49,
    1989.52, 1989.56, 1989.59, 1989.63, 1989.66, 1989.70, 1989.73, 1989.77, 1989.80, 1989.84, 1989.87, 1989.91, 1989.94, 1989.98,
    1990.03, 1990.07, 1990.10, 1990.14, 1990.17, 1990.21, 1990.24, 1990.28, 1990.31, 1990.35, 1990.38, 1990.42, 1990.45, 1990.49,
    1990.52, 1990.56, 1990.59, 1990.63, 1990.66, 1990.70, 1990.73, 1990.77, 1990.80, 1990.84, 1990.87, 1990.91, 1990.94, 1990.98,
    1991.03, 1991.07, 1991.10, 1991.14, 1991.17, 1991.21, 1991.24, 1991.28, 1991.31, 1991.35, 1991.38, 1991.42, 1991.45, 1991.49,
    1991.52, 1991.56, 1991.59, 1991.63, 1991.66, 1991.70, 1991.73, 1991.77, 1991.80, 1991.84, 1991.87, 1991.91, 1991.94, 1991.98,
    1992.03, 1992.07, 1992.10, 1992.14, 1992.17, 1992.21, 1992.24, 1992.28, 1992.31, 1992.35, 1992.38, 1992.42, 1992.45, 1992.49,
    1992.52, 1992.56, 1992.59, 1992.63, 1992.66, 1992.70, 1992.73, 1992.77, 1992.80, 1992.84, 1992.87, 1992.91, 1992.94, 1992.98,
    1993.03, 1993.07, 1993.10, 1993.14, 1993.17, 1993.21, 1993.24, 1993.28, 1993.31, 1993.35, 1993.38, 1993.42, 1993.45, 1993.49,
    1993.52, 1993.56, 1993.59, 1993.63, 1993.66, 1993.70, 1993.73, 1993.77, 1993.80, 1993.84, 1993.87, 1993.91, 1993.94, 1993.98,
    1994.03, 1994.07, 1994.10, 1994.14, 1994.17, 1994.21, 1994.24, 1994.28, 1994.31, 1994.35, 1994.38, 1994.42, 1994.45, 1994.49,
    1994.52, 1994.56, 1994.59, 1994.63, 1994.66, 1994.70, 1994.73, 1994.77, 1994.80, 1994.84, 1994.87, 1994.91, 1994.94, 1994.98,
    1995.03, 1995.07, 1995.10, 1995.14, 1995.17, 1995.21, 1995.24, 1995.28, 1995.31, 1995.35, 1995.38, 1995.42, 1995.45, 1995.49,
    1995.52, 1995.56, 1995.59, 1995.63, 1995.66, 1995.70, 1995.73, 1995.77, 1995.80, 1995.84, 1995.87, 1995.91, 1995.94, 1995.98,
    1996.03, 1996.07, 1996.10, 1996.14, 1996.17, 1996.21, 1996.24, 1996.28, 1996.31, 1996.35, 1996.38, 1996.42, 1996.45, 1996.49,
    1996.52, 1996.56, 1996.59, 1996.63, 1996.66, 1996.70, 1996.73, 1996.77, 1996.80, 1996.84, 1996.87, 1996.91, 1996.94, 1996.98,
    1997.03, 1997.07, 1997.10, 1997.14, 1997.17, 1997.21, 1997.24, 1997.28, 1997.31, 1997.35, 1997.38, 1997.42, 1997.45, 1997.49,
    1997.52, 1997.56, 1997.59, 1997.63, 1997.66, 1997.70, 1997.73, 1997.77, 1997.80, 1997.84, 1997.87, 1997.91, 1997.94, 1997.98,
    1998.03, 1998.07, 1998.10, 1998.14, 1998.17, 1998.21, 1998.24, 1998.28, 1998.31, 1998.35, 1998.38, 1998.42, 1998.45, 1998.49,
    1998.52, 1998.56, 1998.59, 1998.63, 1998.66, 1998.70, 1998.73, 1998.77, 1998.80, 1998.84, 1998.87, 1998.91, 1998.94, 1998.98,
    1999.03, 1999.07, 1999.10, 1999.14, 1999.17, 1999.21, 1999.24, 1999.28, 1999.31, 1999.35, 1999.38, 1999.42, 1999.45, 1999.49,
    1999.52, 1999.56, 1999.59, 1999.63, 1999.66, 1999.70, 1999.73, 1999.77, 1999.80, 1999.84, 1999.87, 1999.91, 1999.94, 1999.98,
    2000.03, 2000.07, 2000.10, 2000.14, 2000.17, 2000.21, 2000.24, 2000.28, 2000.31, 2000.35, 2000.38, 2000.42, 2000.45, 2000.49,
    2000.52, 2000.56, 2000.59, 2000.63, 2000.66, 2000.70, 2000.73, 2000.77, 2000.80, 2000.84, 2000.87, 2000.91, 2000.94, 2000.98,
    2001.03, 2001.07, 2001.10, 2001.14, 2001.17, 2001.21, 2001.24, 2001.28, 2001.31, 2001.35, 2001.38, 2001.42, 2001.45, 2001.49,
    2001.52, 2001.56, 2001.59, 2001.63, 2001.66, 2001.70, 2001.73, 2001.77, 2001.80, 2001.84, 2001.87, 2001.91, 2001.94, 2001.98,
    2002.03, 2002.07, 2002.10, 2002.14, 2002.17, 2002.21, 2002.24, 2002.28, 2002.31, 2002.35, 2002.38, 2002.42, 2002.45, 2002.49,
    2002.52, 2002.56, 2002.59, 2002.63, 2002.66, 2002.70, 2002.73, 2002.77, 2002.80, 2002.84, 2002.87, 2002.91, 2002.94, 2002.98,
    2003.03, 2003.07, 2003.10, 2003.14, 2003.17, 2003.21, 2003.24, 2003.28, 2003.31, 2003.35, 2003.38, 2003.42, 2003.45, 2003.49,
    2003.52, 2003.56, 2003.59, 2003.63, 2003.66, 2003.70, 2003.73, 2003.77, 2003.80, 2003.84, 2003.87, 2003.91, 2003.94, 2003.98,
    2004.03, 2004.07, 2004.10, 2004.14, 2004.17, 2004.21, 2004.24, 2004.28, 2004.31, 2004.35, 2004.38, 2004.42, 2004.45, 2004.49,
    2004.52, 2004.56, 2004.59, 2004.63, 2004.66, 2004.70, 2004.73, 2004.77, 2004.80, 2004.84, 2004.87, 2004.91, 2004.94, 2004.98,
    2005.03, 2005.07, 2005.10, 2005.14, 2005.17, 2005.21, 2005.24, 2005.28, 2005.31, 2005.35, 2005.38, 2005.42, 2005.45, 2005.49,
    2005.52, 2005.56, 2005.59, 2005.63, 2005.66, 2005.70, 2005.73, 2005.77, 2005.80, 2005.84, 2005.87, 2005.91, 2005.94, 2005.98,
    2006.03, 2006.07, 2006.10, 2006.14, 2006.17, 2006.21, 2006.24, 2006.28, 2006.31, 2006.35, 2006.38, 2006.42, 2006.45, 2006.49,
    2006.52, 2006.56, 2006.59, 2006.63, 2006.66, 2006.70, 2006.73, 2006.77, 2006.80, 2006.84, 2006.87, 2006.91, 2006.94, 2006.98,
    2007.03, 2007.07, 2007.10, 2007.14, 2007.17, 2007.21, 2007.24, 2007.28, 2007.31, 2007.35, 2007.38, 2007.42, 2007.45,
]
dX_2 = [
    20, 90, 150, 185, 120, 15, 165, 130, 175, 105, 190, 145, 160, 110,
    165, 55, 185, 130, 150, 170, 110, 140, 160, 125, 100, 155, 130, 145,
    -120, 120, 180, 135, 150, 105, 165, 190, 125, 145, 115, 170, 135, 100,
    165, -100, 185, 140, 200, 120, 155, 175, 130, 150, 110, 165, 0, 135,
    -30, 0, -70, -20, 10, -45, -10,
    -25, 15, -5, -45, 20, -15, 5, 35, -30, 10, -10, 85, -20, 0, 25, -40, 10, -15, 115, -5, 30, -25, 5, -50, 15, -10, 25, -35,
    20, -25, 10, -5, 40, -15, 5, -35, 15, 0, -20, 30, -10, 10, -30, 25, -5, 15, -45, 5, 20, -15, 0, 35, -20, 10, -5, 25,
    -5, 25, -30, 10, -15, 35, 0, -20, 15, -40, 5, 20, -10, 45, -25, 0, 30, -15, 10, -35, 5, 20, -10, 60, -20, 10, -5, 35,
    25, -20, 160, 5, -35, 15, 175, -10, 30, -25, 0, 150, 20, -15, 10, -40, 35, 0, -20, 15, 120, -5, 25, -30, 10, 170, -15, 20,
    170, -15, 20, -35, 10, 145, -5, 30, -20, 5, 40, -10, 15, -30, 0, 25, 130, -15, 10, -45, 20, -5, 35, -25, 10, 0, -15, 30,
    20, -30, 0, 45, -15, 10, -40, 25, -5, 15, -25, 35, 5, -15, 20, 50, -10, 0, -35, 30, 10, -20, 40, -5, 25, -30, 15, 5,
    5, 40, 20, -15, 55, 30, 10, -20, 45, 15, 60, 0, 35, 25, -5, 50, 20, -25, 40, 10, 65, 30, -10, 45, 15, 0, 35, 20,
    40, 5, 25, -25, 50, 15, -10, 30, 0, 45, 20, -20, 35, 10, -5, 40, 25, -15, 55, 10, 30, -60, -80, -45, 20, 40, 0, 25,
    -70, -40, 20, 35, -25, 10, -5, 25, -30, 40, 0, 15, -15, 30, 5, -35, 20, 45, -10, 10, -20, 35, 0, -30, 25, 5, 50, -10,
    40, -15, 20, 5, -30, 45, 10, -5, 30, -20, 20, 55, 0, 25, -25, 35, 10, -10, 40, 15, -35, 25, 5, 50, -15, 20, 0, 35,
    20, -25, 35, 0, 50, -10, 25, 10, -35, 40, 15, -5, 30, 5, -20, 45, 20, 0, 35, -15, 60, 10, -30, 25, 40, -5, 20, 5,
    35, -5, 50, 15, -25, 25, 5, 45, -15, 30, 10, 60, -10, 20, 40, 0, -30, 30, 15, 55, -5, 25, 10, -20, 40, 5, 35, 15,
    10, 45, -20, 30, 60, 5, 25, -10, 40, 15, 55, -30, 20, 35, 0, 50, -15, 25, 65, 10, -40, 30, 15, 45, -5, 35, 60, 0,
    45, 10, 65, -15, 30, 5, 50, 20, -25, 40, 70, 15, 35, -5, 55, 25, 0, 45, -30, 30, 60, 10, 40, -20, 50, 20, 75, 5,
    20, 55, 0, 40, 75, 25, -25, 50, 10, 65, 30, -5, 45, 85, 15, 35, -35, 55, 25, 70, 5, 40, -15, 60, 30, 80, 10, 45,
    60, 15, 45, 85, 25, -20, 55, 35, 70, 0, 50, 90, 20, 40, -10, 65, 30, 75, 5, 50, 25, 85, 40, -35, 60, 15, 45, 70,
    55, 5, 70, 30, -25, 45, 15, 80, 35, -5, 60, 20, 95, 40, 0, 50, 25, 75, -30, 40, 65, 10, 55, 30, -15, 70, 20, 45,
    15, 65, 40, -25, 55, 25, 90, 5, 45, 70, 30, -15, 60, 20, 80, 35, 10, 55, -35, 45, 25, 75, 0, 50, 30, -20, 65, 40,
    25, 60, 5, 45, 30, 75, 15, 50, 35, 0, 65, 25, 40,
]
dY_2 = [
    150, 200, 120, 140, -30, 105, 165, 130, 115, 150, 95, 140, 170, 125,
    185, 130, 160, 115, 140, 200, 125, 150, 80, 170, 120, 145, 110, 160,
    -50, 135, 175, 150, 190, 120, 160, 200, 140, 125, 180, 150, 105, 165,
    160, -60, 175, 140, 195, 125, 180, 150, 165, 130, 185, 110, 145, 170,
    70, 95, 80, 60, 105, 85, 70,
    80, 60, 100, 75, 50, 90, 65, 115, 70, 85, 55, 95, 70, 60, 105, 80, 65, 90, 50, 75, 95, 60, 85, 70, 100, 55, 80, 65,
    100, 65, 85, 50, 75, 95, 60, 80, 105, 70, 55, 90, 65, 85, 45, 75, 100, 60, 80, 70, 95, 50, 85, 65, 75, 110, 60, 80,
    80, 55, 90, 65, 45, 75, 100, 60, 85, 50, 70, 95, 55, 40, 75, 60, 85, 45, 70, 55, 90, 40, 65, 50, 80, 35, 60, 45,
    45, 30, 55, 25, 40, 60, 35, 20, 50, 30, 45, 15, 35, 25, 40, 20, 30, 10, 35, 25, 45, 15, 30, 5, 25, 20, 35, 10,
    25, 0, 35, 10, 45, 15, -15, 30, 5, 20, -5, 35, 15, 25, 0, 40, 10, 25, -20, 15, 30, 5, 20, 40, 0, 25, 10, 35,
    30, 0, 20, 45, 10, 25, -10, 35, 15, 0, 30, 20, 50, 5, 25, 10, 35, -5, 20, 30, 15, 40, 0, 25, 10, 35, 20, -15,
    0, 30, 15, 45, 5, 25, -10, 35, 20, 0, 40, 10, 30, -15, 20, 45, 5, 30, 15, -5, 35, 10, 25, 40, 0, 30, 20, 50,
    25, 5, 40, 15, 30, -10, 20, 35, 10, 45, 0, 25, 15, 30, -40, 20, 5, 35, 10, 25, -5, 30, 15, 40, 5, 25, 35, 10,
    10, 30, -5, 25, 40, 5, 20, -15, 35, 15, 0, 30, 45, 10, 25, -5, 35, 15, 40, 5, 20, 30, -20, 15, 40, 0, 25, 10,
    35, 5, 25, 45, 15, 0, 30, 20, 50, 10, 35, -10, 25, 40, 5, 30, 15, 45, 0, 20, 35, 10, 40, 25, -5, 30, 15, 45,
    10, 40, 25, -5, 30, 15, 45, 5, 35, 20, 50, 0, 25, 15, 40, -15, 30, 10, 45, 20, 5, 35, 25, 0, 45, 15, 30, 20,
    40, 20, 5, 35, 25, 50, 15, 30, 45, 0, 25, -50, 35, 15, 40, -60, 20, 30, 10, 45, 25, 35, -45, 15, 50, 30, 20, 40,
    50, 25, 40, 65, 15, 45, 30, 55, 20, 40, 5, 50, 30, 45, 15, 60, 35, 25, 50, 0, 40, 30, 55, 20, 45, 65, 30, 40,
    50, 30, 15, 45, 25, -20, 40, 60, 20, 35, 50, 5, 40, 30, 55, 15, 45, 25, 65, 35, 20, 45, 30, 55, 10, 40, 60, 25,
    40, 25, 55, 15, 45, 65, 30, 50, 20, 40, 60, 5, 45, 35, 25, 55, 40, 70, 30, 15, 50, 35, 60, 20, 45, 30, 55, 40,
    50, 35, 65, 25, 55, 40, 75, 30, 45, 60, 20, 50, 35, 65, 45, 25, 55, 40, 70, 30, 50, 60, 35, 45, 20, 55, 40, 65,
    55, 30, 45, 65, 25, 50, 40, 70, 35, 55, 20, 45, 60, 30, 50, 40, 65, 25, 55, 35, 45, 75, 30, 50, 40, 60, 25, 55,
    45, 25, 60, 35, 50, 20, 55, 40, 65, 30, 50, 25, 45, 60, 35, 55, 20, 45, 70, 30, 50, 40, 60, 25, 55, 35, 45, 30,
    35, 55, 25, 45, 60, 30, 50, 40, 20, 55, 35, 45, 30,
]
dsigX_2 = [
    -0.9, -1.2, -1.5, -1.4, -1.7, -1.5, -1.3, -1.6, -1.4, -1.8, -1.5, -1.6, -1.3, -1.5,
    -1.5, -1.6, -1.4, -1.7, -1.5, -1.3, -1.6, -1.5, -1.4, -1.7, -1.5, -1.6, -1.4, -1.5,
    -1.6, -1.5, -1.4, -1.7, -1.5, -1.6, -1.3, -1.5, -1.7, -1.4, -1.6, -1.5, -1.4, -1.6,
    -1.5, -1.4, -1.6, -1.5, -1.7, -1.4, -1.5, -1.6, -1.5, -1.3, -1.6, -1.5, -1.7, -1.4,
    -1.7, -1.5, -1.6, -1.4, -1.8, -1.5, -1.6,
    -1.6, -1.8, -1.5, -1.7, -1.9, -1.6, -1.8, -1.5, -1.7, -2.0, -1.6, -1.8, -1.5, -1.7, -1.9, -1.6, -1.8, -1.7, -1.5, -2.0, -1.7, -1.8, -1.6, -1.9, -1.7, -2.1, -1.8, -1.9,
    -2.0, -1.8, -2.2, -1.9, -2.1, -2.4, -1.8, -2.0, -2.3, -1.9, -2.6, -2.0, -1.8, -2.2, -2.1, -1.9, -2.4, -2.0, -2.2, -1.8, -2.1, -2.3, -1.9, -2.0, -2.5, -2.1, -1.9, -2.2,
    -2.1, -2.4, -2.0, -2.7, -2.2, -1.9, -2.5, -2.3, -2.0, -2.8, -2.2, -2.5, -2.1, -2.4, -2.9, -2.2, -2.0, -2.6, -2.3, -2.1, -2.7, -2.4, -2.2, -3.0, -2.3, -2.6, -2.1, -2.5,
    -2.5, -2.8, -2.4, -3.0, -2.6, -2.9, -2.5, -3.2, -2.7, -2.4, -3.0, -2.8, -3.3, -2.6, -2.9, -3.1, -2.7, -3.4, -2.8, -3.0, -2.6, -3.2, -2.9, -3.5, -2.7, -3.1, -3.3, -2.9,
    -2.9, -3.4, -2.7, -3.8, -3.1, -2.8, -4.2, -3.2, -3.0, -3.6, -2.7, -4.5, -3.3, -2.9, -3.5, -3.1, -4.0, -2.8, -3.4, -3.0, -3.7, -4.8, -3.2, -2.9, -3.6, -4.1, -3.3, -3.0,
    -3.4, -4.0, -3.1, -4.7, -3.6, -5.4, -3.2, -4.2, -3.8, -6.2, -3.5, -4.5, -3.0, -5.0, -4.1, -3.7, -5.8, -3.3, -4.4, -6.5, -3.9, -4.8, -3.4, -5.3, -4.0, -3.6, -6.8, -4.3,
    -4.0, -5.2, -3.5, -6.0, -4.6, -3.9, -5.6, -4.3, -7.2, -3.8, -5.0, -4.4, -6.3, -3.6, -5.4, -4.1, -4.8, -7.5, -3.9, -5.7, -4.5, -3.7, -6.1, -4.9, -4.2, -5.3, -3.8, -6.6,
    -5.0, -3.8, -5.9, -4.4, -3.5, -6.4, -4.7, -5.3, -4.0, -3.7, -6.8, -4.5, -5.6, -3.9, -4.8, -6.1, -4.2, -5.1, -3.6, -7.0, -4.6, -5.5, -4.1, -6.2, -3.8, -5.0, -4.4, -5.8,
    -4.8, -4.1, -5.5, -3.7, -6.0, -4.5, -5.1, -3.9, -6.6, -4.4, -5.3, -3.6, -4.9, -5.9, -4.2, -5.6, -3.8, -6.3, -4.6, -5.0, -4.0, -5.4, -3.9, -6.1, -4.7, -5.2, -4.3, -5.7,
    -4.1, -5.5, -4.6, -3.8, -6.3, -4.9, -4.3, -5.7, -3.9, -5.0, -4.4, -6.6, -4.0, -5.2, -3.7, -4.8, -5.9, -4.2, -3.9, -5.4, -4.7, -6.1, -4.3, -5.1, -3.8, -5.6, -4.5, -4.0,
    -4.9, -4.2, -5.8, -3.8, -5.2, -4.5, -6.4, -4.0, -5.0, -4.7, -3.6, -5.9, -4.3, -5.4, -4.1, -6.2, -4.8, -3.9, -5.5, -4.4, -5.1, -3.7, -4.6, -6.0, -4.2, -5.3, -4.0, -4.8,
    -3.4, -4.0, -3.0, -4.6, -1.2, -3.7, -4.3, -3.2, -5.1, -3.6, -4.1, -2.8, -4.7, -3.9, -3.3, -5.4, -3.8, -4.4, -3.1, -4.9, -3.5, -4.2, -3.7, -5.6, -3.9, -4.5, -3.3, -4.8,
    -4.6, -5.4, -4.0, -6.2, -5.0, -4.4, -6.8, -5.2, -4.7, -5.9, -4.1, -6.5, -5.3, -4.6, -5.7, -4.3, -6.0, -5.1, -7.2, -4.8, -5.5, -4.2, -6.3, -5.0, -4.5, -5.8, -6.9, -4.7,
    -5.7, -6.8, -4.8, -7.6, -5.4, -6.2, -8.5, -5.1, -6.9, -4.7, -7.2, -5.9, -8.0, -5.3, -6.4, -4.9, -7.7, -5.6, -9.0, -6.1, -5.0, -7.3, -5.8, -6.7, -4.8, -8.3, -6.0, -7.0,
    -6.1, -8.3, -5.2, -9.7, -6.9, -7.5, -4.9, -8.9, -6.4, -5.6, -10.4, -7.1, -6.0, -8.0, -5.4, -9.2, -6.6, -7.8, -4.7, -8.6, -6.3, -10.8, -7.3, -5.8, -9.0, -6.7, -8.1, -5.5,
    -7.0, -5.4, -9.3, -6.5, -8.0, -5.0, -10.8, -7.4, -6.1, -8.7, -5.6, -9.8, -6.9, -7.7, -5.2, -11.4, -6.3, -8.4, -7.1, -5.8, -9.5, -6.6, -8.2, -5.5, -10.1, -7.3, -6.0, -8.9,
    -7.2, -5.6, -9.5, -6.4, -8.3, -5.1, -10.6, -7.0, -6.2, -12.0, -5.4, -8.9, -6.7, -7.8, -5.0, -9.9, -6.5, -11.2, -7.5, -5.7, -8.6, -6.3, -10.3, -7.1, -5.5, -9.1, -6.8, -8.0,
    -8.1, -6.0, -10.4, -7.2, -5.5, -9.1, -6.6, -11.6, -7.7, -6.2, -9.8, -5.3, -8.5, -7.0, -10.9, -6.4, -8.8, -5.8, -12.2, -7.4, -9.4, -6.1, -8.0, -10.2, -6.9, -11.0, -7.6, -5.9,
    -8.2, -6.4, -10.5, -7.0, -11.8, -9.2, -6.7, -12.3, -8.6, -13.2, -7.9, -10.9, -12.8,
]
dsigY_2 = [
    -0.9, -1.1, -1.3, -1.2, -1.4, -1.1, -1.3, -1.2, -1.0, -1.3, -1.2, -1.4, -1.1, -1.2,
    -1.2, -1.3, -1.1, -1.4, -1.2, -1.0, -1.3, -1.2, -1.4, -1.1, -1.3, -1.2, -1.1, -1.3,
    -1.2, -1.3, -1.1, -1.4, -1.2, -1.3, -1.1, -1.3, -1.2, -1.4, -1.1, -1.3, -1.2, -1.3,
    -1.2, -1.3, -1.1, -1.4, -1.2, -1.3, -1.2, -1.1, -1.3, -1.2, -1.4, -1.2, -1.3, -1.1,
    -1.2, -1.4, -1.3, -1.2, -1.5, -1.3, -1.2,
    -1.3, -1.5, -1.4, -1.2, -1.6, -1.4, -1.3, -1.5, -1.4, -1.6, -1.3, -1.5, -1.4, -1.2, -1.6, -1.4, -1.5, -1.3, -1.4, -1.6, -1.5, -1.3, -1.5, -1.4, -1.6, -1.4, -1.5, -1.6,
    -1.7, -1.9, -1.6, -2.0, -1.8, -1.7, -2.1, -1.8, -1.6, -1.9, -1.7, -2.0, -1.8, -1.9, -1.7, -2.1, -1.8, -1.6, -1.9, -2.0, -1.7, -1.9, -1.8, -2.2, -1.7, -1.9, -1.8, -2.0,
    -1.9, -2.1, -1.8, -2.2, -2.0, -2.3, -1.9, -2.1, -2.0, -2.4, -1.8, -2.2, -2.0, -2.1, -2.3, -1.9, -2.2, -2.0, -2.4, -2.1, -1.9, -2.2, -2.0, -2.3, -2.1, -2.5, -2.0, -2.2,
    -2.2, -2.5, -2.1, -2.6, -2.3, -2.4, -2.7, -2.2, -2.5, -2.3, -2.8, -2.4, -2.2, -2.6, -2.4, -2.7, -2.3, -2.5, -2.9, -2.4, -2.6, -2.8, -2.5, -2.3, -2.7, -2.6, -3.0, -2.5,
    -2.5, -2.9, -2.4, -3.1, -2.7, -2.6, -3.3, -2.8, -2.5, -3.0, -2.7, -3.4, -2.6, -2.9, -3.1, -2.7, -2.5, -3.2, -2.8, -3.5, -2.9, -2.6, -3.0, -2.8, -3.3, -2.7, -3.1, -3.6,
    -2.9, -3.3, -2.8, -3.7, -3.1, -3.5, -2.9, -3.9, -3.2, -3.0, -4.1, -3.4, -3.1, -3.8, -3.5, -4.3, -3.2, -3.6, -3.0, -4.5, -3.7, -3.3, -4.0, -3.5, -4.7, -3.4, -3.9, -3.6,
    -3.5, -4.4, -3.2, -5.1, -3.8, -4.2, -3.4, -4.7, -3.9, -3.3, -5.4, -4.0, -3.6, -4.6, -3.8, -4.9, -3.5, -4.3, -3.1, -5.6, -4.1, -3.7, -4.5, -3.9, -5.0, -3.4, -4.2, -4.8,
    -4.0, -3.6, -4.8, -3.4, -5.1, -4.2, -3.8, -4.6, -3.5, -5.4, -4.1, -3.7, -4.9, -4.3, -3.9, -5.0, -4.4, -3.6, -4.7, -4.0, -5.3, -3.8, -4.5, -4.1, -5.6, -3.7, -4.3, -4.9,
    -4.2, -3.8, -5.0, -4.4, -3.6, -5.3, -4.1, -4.7, -3.9, -5.5, -4.3, -3.7, -4.9, -4.5, -4.0, -5.2, -4.6, -3.8, -5.0, -4.2, -4.4, -5.6, -4.0, -4.8, -3.9, -4.5, -5.1, -4.3,
    -4.3, -3.9, -5.2, -4.5, -4.0, -5.6, -4.2, -3.8, -4.9, -4.4, -5.3, -4.1, -3.7, -5.0, -4.6, -4.2, -5.4, -3.9, -4.7, -5.1, -4.0, -4.5, -5.7, -4.3, -3.8, -4.9, -4.4, -5.2,
    -4.4, -3.9, -5.1, -4.2, -4.8, -3.7, -5.5, -4.5, -4.0, -4.9, -3.6, -5.2, -4.3, -4.1, -5.0, -3.8, -4.6, -5.4, -4.2, -3.9, -4.7, -4.4, -5.3, -4.0, -4.8, -3.7, -4.5, -5.1,
    -3.2, -3.7, -2.8, -4.1, -3.5, -2.9, -3.9, -3.4, -4.3, -3.0, -3.6, -3.3, -4.6, -3.1, -3.8, -3.2, -4.0, -2.7, -3.7, -4.4, -3.5, -3.9, -4.8, -3.6, -4.2, -3.4, -4.7, -3.8,
    -4.5, -4.0, -5.2, -4.7, -3.8, -5.6, -4.3, -4.9, -4.2, -5.4, -4.6, -3.9, -5.1, -4.4, -5.7, -4.1, -4.8, -5.3, -4.0, -4.6, -5.9, -4.3, -5.0, -4.7, -5.5, -4.2, -4.9, -5.2,
    -5.0, -4.5, -5.9, -5.2, -4.4, -6.4, -4.8, -5.5, -4.9, -6.2, -5.1, -4.6, -5.8, -5.4, -4.7, -6.6, -5.3, -5.0, -6.0, -4.5, -5.7, -5.2, -6.3, -4.8, -5.6, -5.1, -6.8, -5.4,
    -5.2, -6.4, -4.6, -7.1, -5.7, -5.0, -6.8, -5.4, -7.5, -4.9, -6.0, -5.5, -7.8, -5.1, -6.3, -4.8, -6.9, -5.6, -7.3, -5.2, -6.1, -5.8, -8.0, -5.3, -6.6, -4.7, -7.0, -5.9,
    -5.5, -6.6, -5.0, -7.3, -5.9, -6.2, -8.0, -5.3, -6.8, -5.7, -7.5, -6.0, -5.1, -7.0, -6.5, -5.6, -8.3, -6.1, -5.4, -7.1, -6.3, -5.8, -7.7, -5.2, -6.9, -6.4, -8.5, -5.9,
    -5.9, -7.3, -5.4, -8.1, -6.4, -6.9, -5.6, -7.6, -6.1, -8.8, -5.8, -7.0, -6.6, -9.3, -5.5, -7.4, -6.2, -8.4, -11.0, -6.7, -5.9, -7.8, -6.3, -9.0, -5.7, -7.1, -6.5, -8.2,
    -6.3, -7.6, -5.8, -8.5, -6.9, -6.0, -9.0, -7.2, -6.5, -8.1, -5.9, -7.8, -6.7, -9.5, -6.2, -7.4, -8.8, -6.6, -7.0, -5.7, -8.3, -7.5, -6.4, -9.8, -6.8, -7.9, -6.1, -8.6,
    -7.0, -9.1, -6.2, -10.7, -7.8, -12.2, -8.4, -11.0, -6.9, -12.5, -9.5, -7.6, -13.4,
]

rms_labels = ['rms 0.030 mas', 'rms 0.021 mas']

groups = [(epochs, dX, dY, dsigX, dsigY),
          (epochs_2, dX_2, dY_2, dsigX_2, dsigY_2)]
for g in groups:
    assert len(set(len(col) for col in g)) == 1, [len(col) for col in g]

t = np.concatenate([np.array(g[0]) for g in groups])
# microarcseconds -> milliarcseconds
series = [np.concatenate([np.array(g[k]) for g in groups]) / 1000
          for k in range(1, 5)]
colors = ['#0000ff', '#0000ff', '#00ff00', '#00ff00']
ylabels = ['δX', 'δY', r'δσ$_\mathrm{X}$', r'δσ$_\mathrm{Y}$']
ylims = [0.2, 0.2, 0.02, 0.02]
ytick_text = [['-0.2', '0', '0.2'], ['-0.2', '0', '0.2'],
              ['-0.02', '0', '0.02'], ['-0.02', '0', '0.02']]

FS = 19
fig = plt.figure(figsize=(11.06, 8.31), dpi=100, facecolor='white')

# window-frame strip along the top and left edge of the screenshot
strip = fig.add_axes([0, 1 - 7 / 831, 1, 7 / 831])
grad = np.linspace(0, 1, 256)
top_rgb = np.array([0.90, 0.91, 0.94])[None, :] * (1 - grad[:, None]) + \
    np.array([0.68, 0.72, 0.86])[None, :] * grad[:, None]
strip.imshow(top_rgb[None, :, :], aspect='auto', extent=(0, 1, 0, 1))
strip.axis('off')
fig.patches.append(plt.Rectangle((0, 0), 11 / 1106, 1, transform=fig.transFigure,
                                 color='#e6e8f0', zorder=0))

bottoms = [1 - 197 / 831, 1 - 380 / 831, 1 - 562 / 831, 1 - 746 / 831]
heights = [128 / 831, 129 / 831, 129 / 831, 129 / 831]
left, width = 155 / 1106, 857 / 1106

for i in range(4):
    ax = fig.add_axes([left, bottoms[i], width, heights[i]])
    ax.plot(t, series[i], linestyle='none', marker='o', ms=4.2, mew=0,
            color=colors[i])
    lim = ylims[i]
    ax.set_xlim(1984.0, 2008.05)
    ax.set_ylim(-lim, lim)
    ax.set_xticks([1985, 1990, 1995, 2000, 2005])
    ax.set_xticklabels(['1985', '1990', '1995', '2000', '2005'])
    ax.set_yticks([-lim, 0, lim])
    ax.set_yticklabels(ytick_text[i])
    ax.tick_params(direction='in', length=9, width=0.9, labelsize=FS,
                   top=True, right=True, colors='#404040', labelcolor='black')
    ax.tick_params(axis='x', pad=9)
    ax.tick_params(axis='y', pad=5)
    for side in ['left', 'top']:
        ax.spines[side].set_color('#7a7a7a')
    for side in ['right', 'bottom']:
        ax.spines[side].set_color('black')
    for sp in ax.spines.values():
        sp.set_linewidth(1.0)
    ax.set_ylabel(ylabels[i], fontsize=FS, labelpad=10)
    if i < 2:
        ax.text(0.966, 0.86 if i == 0 else 0.853, rms_labels[i],
                transform=ax.transAxes, ha='right', va='center',
                fontsize=FS + 1.5, zorder=5)
    if i == 0:
        ax.set_title('A minus B', fontsize=FS + 1.5, pad=13)

fig.savefig('out.png', dpi=100, facecolor='white')
